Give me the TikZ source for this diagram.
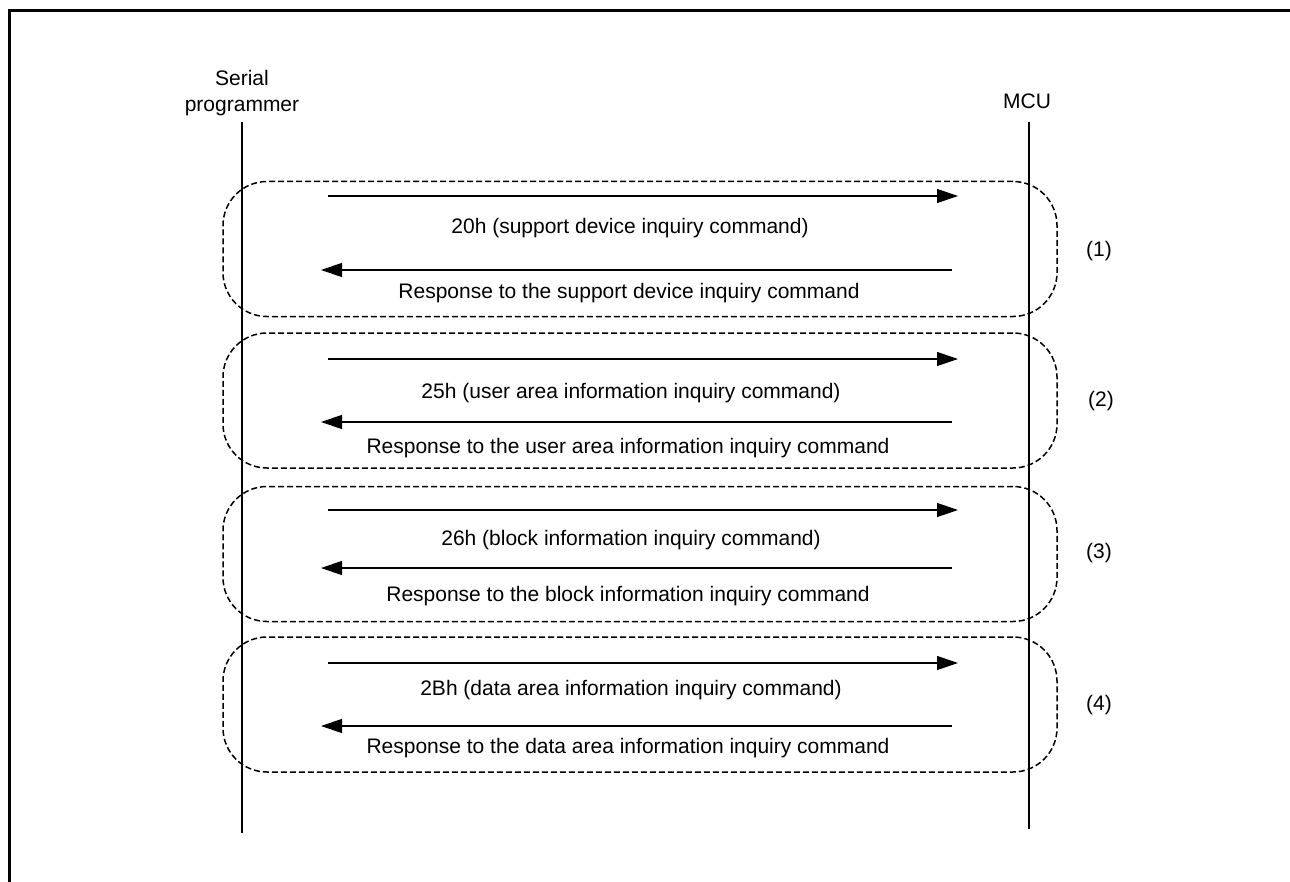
\documentclass[tikz,border=0pt]{standalone}
\usepackage{fontspec}
\setmainfont{Liberation Sans}
\usetikzlibrary{arrows.meta}
\begin{document}
\begin{tikzpicture}[
  x=0.5pt, y=-0.5pt,
  font=\fontsize{10.5pt}{13pt}\selectfont,
  hdr/.style={align=center, inner sep=0pt},
  life/.style={line width=1pt},
  grp/.style={rectangle, rounded corners=22pt, draw, dash pattern=on 3pt off 1.5pt,
              line width=0.75pt, minimum width=417pt, minimum height=67.5pt},
  msg/.style={line width=0.6pt, -{Triangle[length=10.5pt,width=7pt]}},
  lbl/.style={inner sep=0pt},
  num/.style={inner sep=0pt}
]
\useasboundingbox (0,0) rectangle (1290,882);
% frame (top and left edges only)
\draw[line width=1.5pt] (9,882) -- (9,11) -- (1290,11);
% lifeline headers
\node[hdr] (prog) at (242,93)  {Serial\\programmer};
\node[hdr] (mcu)  at (1027,101) {MCU};
% lifelines
\coordinate (progtop) at (242,122);  \coordinate (progbot) at (242,833);
\coordinate (mcutop)  at (1029,122); \coordinate (mcubot)  at (1029,829);
\draw[life] (progtop) -- (progbot);
\draw[life] (mcutop) -- (mcubot);
% inquiry groups
\node[grp] (grpA) at (640,249)   {};
\node[grp] (grpB) at (640,400.5) {};
\node[grp] (grpC) at (640,554)   {};
\node[grp] (grpD) at (640,704.5) {};
\node[num] (numA) at (1099,251) {(1)};
\node[num] (numB) at (1101,401) {(2)};
\node[num] (numC) at (1099,553) {(3)};
\node[num] (numD) at (1099,705) {(4)};
% (1) support device
\coordinate (cmdAs) at (328,196); \coordinate (cmdAe) at (958,196);
\coordinate (resAs) at (952,270); \coordinate (resAe) at (321,270);
\draw[msg] (cmdAs) -- (cmdAe);
\draw[msg] (resAs) -- (resAe);
\node[lbl] (cmdA) at (630,228) {20h (support device inquiry command)};
\node[lbl] (resA) at (629,293) {Response to the support device inquiry command};
% (2) user area
\coordinate (cmdBs) at (328,359); \coordinate (cmdBe) at (958,359);
\coordinate (resBs) at (952,422); \coordinate (resBe) at (321,422);
\draw[msg] (cmdBs) -- (cmdBe);
\draw[msg] (resBs) -- (resBe);
\node[lbl] (cmdB) at (631,393) {25h (user area information inquiry command)};
\node[lbl] (resB) at (628,448) {Response to the user area information inquiry command};
% (3) block
\coordinate (cmdCs) at (328,510); \coordinate (cmdCe) at (958,510);
\coordinate (resCs) at (952,568); \coordinate (resCe) at (321,568);
\draw[msg] (cmdCs) -- (cmdCe);
\draw[msg] (resCs) -- (resCe);
\node[lbl] (cmdC) at (631,540) {26h (block information inquiry command)};
\node[lbl] (resC) at (628,596) {Response to the block information inquiry command};
% (4) data area
\coordinate (cmdDs) at (328,663); \coordinate (cmdDe) at (958,663);
\coordinate (resDs) at (952,726); \coordinate (resDe) at (321,726);
\draw[msg] (cmdDs) -- (cmdDe);
\draw[msg] (resDs) -- (resDe);
\node[lbl] (cmdD) at (631,690) {2Bh (data area information inquiry command)};
\node[lbl] (resD) at (628,748) {Response to the data area information inquiry command};
\end{tikzpicture}
\end{document}
